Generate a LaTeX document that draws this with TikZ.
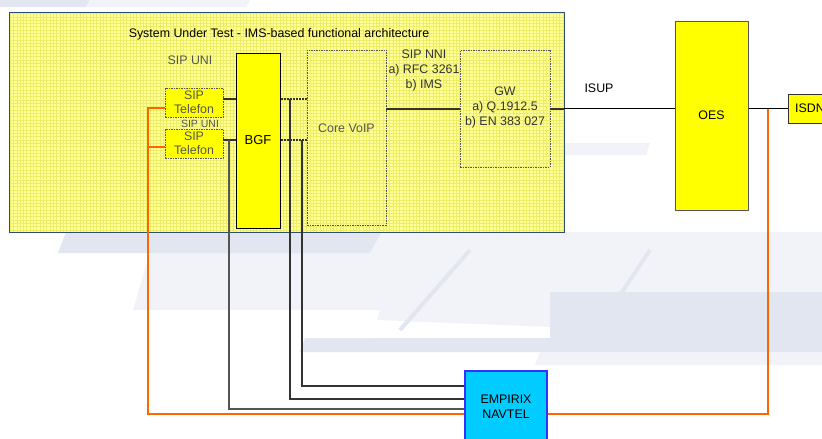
\documentclass[tikz,border=0pt]{standalone}
\usepackage{fontspec}
\setmainfont{Liberation Sans}
\definecolor{sutfill}{HTML}{FFFF9C}
\definecolor{gridc}{HTML}{EEEE66}
\definecolor{sutborder}{HTML}{2F4F6F}
\definecolor{yel}{HTML}{FFFF00}
\definecolor{orangeL}{HTML}{FF6600}
\definecolor{empfill}{HTML}{00CCFF}
\definecolor{empdraw}{HTML}{3333FF}
\definecolor{bgA}{HTML}{E2E6F0}
\definecolor{bgB}{HTML}{F1F3F9}
\definecolor{dk}{HTML}{333333}
\definecolor{txtg}{HTML}{555555}
\begin{document}
\begin{tikzpicture}[x=1pt,y=-1pt,
  txt/.style={inner sep=0pt, align=center, font=\fontsize{12.4}{15}\selectfont},
  smalltxt/.style={inner sep=0pt, align=center, font=\fontsize{10.5}{12}\selectfont, text=txtg},
  solidbox/.style={draw=black, line width=1pt, fill=yel, inner sep=0pt},
  dashbox/.style={draw=txtg, line width=0.9pt, dash pattern=on 1.5pt off 1pt, inner sep=0pt},
  dline/.style={draw=dk, line width=2pt, dash pattern=on 2.2pt off 0.8pt},
  sline/.style={draw=black, line width=1.9pt},
  orl/.style={draw=orangeL, line width=1.9pt},
  tap/.style={draw=#1, line width=1.2pt}]
\useasboundingbox (0,0) rectangle (822,439);
\clip (0,0) rectangle (822,439);
\fill[white] (0,0) rectangle (822,439);
% faint background decoration
\fill[bgA] (0,0) -- (90,0) -- (86,7) -- (0,7) -- cycle;
\fill[bgB] (90,0) -- (250,0) -- (246,7) -- (86,7) -- cycle;
\fill[bgB] (150,253) -- (822,253) -- (822,338) -- (133,310) -- cycle;
\fill[bgA] (66,232) -- (382,232) -- (370,253) -- (58,253) -- cycle;
\fill[bgB] (382,232) -- (822,232) -- (822,253) -- (370,253) -- cycle;
\fill[bgA] (550,292) -- (822,292) -- (822,338) -- (550,338) -- cycle;
\fill[bgA] (305,338) -- (822,338) -- (822,352) -- (300,352) -- cycle;
\fill[bgB] (550,143) -- (650,143) -- (646,155) -- (550,155) -- cycle;
\fill[bgB] (540,352) -- (822,352) -- (822,365) -- (535,365) -- cycle;
\fill[white] (133,310) -- (380,310) -- (372,338) -- (133,338) -- cycle;
\draw[bgA, line width=4pt] (470,250) -- (400,330);
\draw[bgA, line width=4pt] (650,250) -- (590,340);
% system under test
\node[fill=sutfill, inner sep=0pt, minimum width=554pt, minimum height=219pt] (sut) at (287,122.5) {};
\begin{scope}
\clip (sut.south west) rectangle (sut.north east);
\draw[gridc, line width=0.3pt, step=3.33pt] (sut.south west) grid (sut.north east);
\end{scope}
\draw[sutborder, line width=1pt] (sut.south west) rectangle (sut.north east);
\node[txt] (title) at (279,34) {System Under Test - IMS-based functional architecture};
\node[txt, text=txtg] (uni1) at (190,60) {SIP UNI};
\node[smalltxt] (uni2) at (200,124) {SIP UNI};
\node[txt, text=dk] (nni) at (424,70) {SIP NNI\\a) RFC 3261\\b) IMS};
\node[txt] (isup) at (599,88) {ISUP};
% boxes
\node[dashbox, fill=yel, minimum width=58pt, minimum height=29pt, txt, text=txtg, font=\fontsize{12.4}{14}\selectfont] (tel1) at (194,102.5) {SIP\\Telefon};
\node[dashbox, fill=yel, minimum width=58pt, minimum height=29pt, txt, text=txtg, font=\fontsize{12.4}{14}\selectfont] (tel2) at (194,143.5) {SIP\\Telefon};
\node[solidbox, minimum width=44pt, minimum height=175pt, txt, font=\fontsize{13}{15}\selectfont] (bgf) at (258,140.5) {BGF};
\node[dashbox, minimum width=79pt, minimum height=175pt] (core) at (346.5,137.5) {};
\node[txt, text=txtg] (coret) at (346.5,128) {Core VoIP};
\node[dashbox, minimum width=90pt, minimum height=117pt] (gw) at (505,108.5) {};
\node[txt, text=dk] (gwt) at (505,107) {GW\\a) Q.1912.5\\b) EN 383 027};
\node[draw=txtg, line width=1pt, fill=yel, inner sep=0pt, minimum width=73pt, minimum height=189pt] (oes) at (711.5,115.5) {};
\node[txt] (oest) at (711.5,115) {OES};
\node[draw=dk, line width=1pt, fill=yel, inner sep=0pt, minimum width=60pt, minimum height=29pt] (isdn) at (818,108.5) {};
\node[txt, anchor=west] (isdnt) at (795,108) {ISDN};
\node[draw=empdraw, line width=1.2pt, fill=empfill, inner sep=0pt, minimum width=82pt, minimum height=79pt] (emp) at (506,410.5) {};
\node[txt] (empt) at (506,406.5) {EMPIRIX\\NAVTEL};
% coordinates
\coordinate (r1) at ([yshift=3.5pt]tel1.east);
\coordinate (r2) at ([yshift=3.5pt]tel2.east);
\coordinate (ot1) at ([yshift=-5.5pt]tel1.west);
\coordinate (ot2) at ([yshift=-3.5pt]tel2.west);
\coordinate (okink) at (148,414);
\coordinate (j1) at (229,140);
\coordinate (j2) at (290,99);
\coordinate (j3) at (302,140);
\coordinate (e1) at ([yshift=24.5pt]emp.west);
\coordinate (e2) at ([yshift=11.5pt]emp.west);
\coordinate (e3) at ([yshift=1.5pt]emp.west);
\coordinate (e4) at ([yshift=-3.5pt]emp.west);
\coordinate (e5) at ([yshift=-3.5pt]emp.east);
\coordinate (tapR) at (768,108.5);
% dashed links
\draw[dline] (r1) -- (r1 -| bgf.west);
\draw[dline] (r2) -- (r2 -| bgf.west);
\draw[dline] (r1 -| bgf.east) -- (r1 -| core.west);
\draw[dline] (r2 -| bgf.east) -- (r2 -| core.west);
\draw[dline] (gw.west -| core.east) -- (gw.west);
\draw[dline] (gw.east) -- (gw.east -| sut.east);
\draw[sline] (gw.east -| sut.east) -- (gw.east -| oes.west);
\draw[sline] (isdn.west -| oes.east) -- (isdn.west);
% tap lines
\draw[tap=txtg] (j1) |- (e3);
\draw[tap=dk] (j2) |- (e2);
\draw[tap=dk] (j3) |- (e1);
\draw[orl] (ot1) -| (okink) -- (e4);
\draw[orl] (ot2) -- (ot2 -| okink);
\draw[orl] (tapR) |- (e5);
\end{tikzpicture}
\end{document}
